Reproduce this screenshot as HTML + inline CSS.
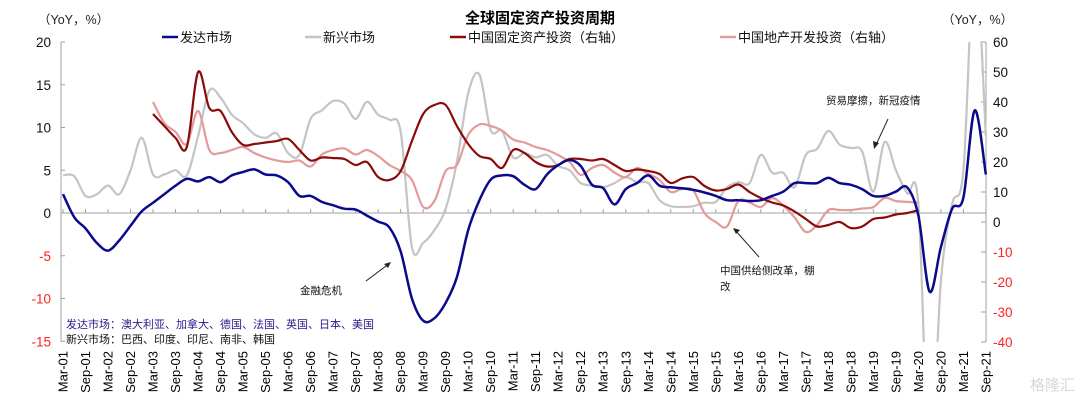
<!DOCTYPE html>
<html><head><meta charset="utf-8">
<style>
html,body{margin:0;padding:0;background:#fff;}
body{width:1080px;height:402px;overflow:hidden;font-family:"Liberation Sans","Noto Sans CJK SC",sans-serif;}
svg{display:block;}
</style></head>
<body>
<svg id="chart" width="1080" height="402" viewBox="0 0 1080 402" xmlns="http://www.w3.org/2000/svg" font-family="Liberation Sans, Noto Sans CJK SC, sans-serif">
  <text x="540" y="23" text-anchor="middle" font-size="15" font-weight="bold" fill="#000">全球固定资产投资周期</text>
  <text x="38" y="24" font-size="12.5" fill="#222">（YoY，%）</text>
  <text x="942" y="24" font-size="12.5" fill="#222">（YoY，%）</text>
  <g font-size="13" fill="#111">
    <g><line x1="162" y1="37" x2="178" y2="37" stroke="#0a0a8a" stroke-width="2.5"/><text x="180" y="42">发达市场</text></g>
    <g><line x1="305" y1="37" x2="321" y2="37" stroke="#c4c4c4" stroke-width="2.5"/><text x="323" y="42">新兴市场</text></g>
    <g><line x1="450" y1="37" x2="466" y2="37" stroke="#8b0a0a" stroke-width="2.5"/><text x="468" y="42">中国固定资产投资（右轴）</text></g>
    <g><line x1="720" y1="37" x2="736" y2="37" stroke="#e39a9a" stroke-width="2.5"/><text x="738" y="42">中国地产开发投资（右轴）</text></g>
  </g>
  <defs><clipPath id="plotclip"><rect x="61" y="42" width="926" height="300"/></clipPath></defs>
  <g id="axes"></g>
  <g id="series" clip-path="url(#plotclip)"></g>
  <g font-size="10.5" fill="#111">
    <text x="300" y="294">金融危机</text>
    <line x1="366" y1="281" x2="390" y2="263" stroke="#222" stroke-width="1"/>
    <path d="M391,262 L384,264 L388,268 Z" fill="#222"/>
    <text x="826" y="104">贸易摩擦，新冠疫情</text>
    <line x1="888" y1="119" x2="875" y2="147" stroke="#222" stroke-width="1"/>
    <path d="M874,149 L873,141 L879,143 Z" fill="#222"/>
    <text x="720" y="274">中国供给侧改革，棚</text>
    <text x="720" y="290">改</text>
    <line x1="759" y1="257" x2="735" y2="230" stroke="#222" stroke-width="1"/>
    <path d="M733,228 L740,230 L736,234 Z" fill="#222"/>
  </g>
  <g font-size="11">
    <text x="66" y="328" fill="#2a1a8a">发达市场：澳大利亚、加拿大、德国、法国、英国、日本、美国</text>
    <text x="66" y="343" fill="#111">新兴市场：巴西、印度、印尼、南非、韩国</text>
  </g>
  <text x="1030" y="390" font-size="15" fill="#d8d8d8">格隆汇</text>
</svg>
<script>
const quarters = [];
const monthNames = ['Mar','Jun','Sep','Dec'];
for (let y = 1; y <= 21; y++) for (let k = 0; k < 4; k++) { if (y === 21 && k === 3) break; quarters.push(monthNames[k] + '-' + String(y).padStart(2,'0')); }
const xTickLabels = [];
for (let y = 1; y <= 21; y++) { xTickLabels.push('Mar-' + String(y).padStart(2,'0')); xTickLabels.push('Sep-' + String(y).padStart(2,'0')); }
const leftTicks = [20,15,10,5,0,-5,-10,-15];
const rightTicks = [60,50,40,30,20,10,0,-10,-20,-30,-40];

const developed = [2.2,-0.5,-1.8,-3.5,-4.4,-3.2,-1.5,0.2,1.2,2.2,3.2,4.0,3.7,4.2,3.6,4.4,4.8,5.1,4.5,4.4,3.6,2.0,2.0,1.3,0.9,0.5,0.4,-0.3,-1.0,-1.7,-4.5,-10.0,-12.6,-12.3,-10.5,-7.5,-2.0,1.5,3.9,4.4,4.3,3.3,2.8,4.5,5.6,6.2,5.5,3.3,2.9,1.0,2.8,3.5,4.4,3.2,3.0,2.9,2.7,2.4,2.0,1.5,1.5,1.4,1.5,2.0,2.5,3.5,3.5,3.5,4.1,3.5,3.3,2.8,2.0,2.0,2.5,3.0,-0.3,-9.2,-4.0,0.5,1.8,12.0,4.5];
const emerging = [4.4,4.3,2.0,2.2,3.2,2.2,5.0,8.8,4.5,4.5,5.0,4.4,9.0,14.3,13.5,11.5,10.5,9.2,8.8,9.3,7.0,6.8,11.0,12.0,13.1,12.8,11.0,13.0,11.5,10.9,9.5,-4.0,-3.5,-2.0,0.5,6.0,14.0,16.2,9.7,9.6,6.5,7.0,6.5,6.8,5.5,5.0,3.5,3.2,3.0,3.5,4.2,3.6,3.5,1.5,0.8,0.7,0.8,1.2,1.3,3.0,3.6,3.5,6.8,4.7,4.7,3.0,6.8,7.5,9.6,8.0,7.6,7.2,2.5,8.3,5.0,2.3,1.0,-30,-8,1.0,5.0,30,9.0];
const chinaFAI = [null,null,null,null,null,null,null,null,36,32,28,25,50,38,37,30,25.7,26,26.5,27,27.7,24,20.5,21.5,21.3,21,19,20,15,14,17,27,36,39,39,32,26,22,21,18,24,23,20,18.5,19,21,21,20.5,21,19,17,17.5,17,16,13,14.5,15,12,10.5,11,12.5,10,8,6.5,5.5,3.5,1,-1.5,-1,0,-2,-1.5,1,1.5,2.5,3,4,null,null,null,null,null,null];
const chinaRE = [null,null,null,null,null,null,null,null,40,33,30,26,37,24,23,24,25,23,21.5,20.5,20,20.5,18.5,22.5,24,24.5,22.5,24,22,19,17,14,5,7,17,19,29,32.5,32,30.5,27.5,26.5,25,24,22.3,20,15.7,18,19,16.5,15,18,16,14,10,11,10.5,3,0,-1.5,7,6.5,5,8,5.5,1.5,-3.3,-1,4,4,4,4.5,5,8,7,6.7,6.5,null,null,null,null,null,null];

const X0 = 63, QSTEP = 11.255;
const xScale = i => X0 + i * QSTEP;
const yLeft = v => 213 - v * (171 / 20);
const yRight = v => 222 - v * 3;
const NS = 'http://www.w3.org/2000/svg';
const mk = (tag, attrs, parent) => { const e = document.createElementNS(NS, tag); for (const k in attrs) e.setAttribute(k, attrs[k]); parent.appendChild(e); return e; };
const axes = document.getElementById('axes');
const series = document.getElementById('series');

const la = mk('line', {x1:61,y1:42,x2:61,y2:342,stroke:'#a0a0a0','stroke-width':1}, axes);


leftTicks.forEach(v => {
  const y = yLeft(v);
  mk('line', {x1:61,y1:y,x2:65,y2:y,stroke:'#a0a0a0'}, axes);
  const t = mk('text', {x:51,y:y+5,'text-anchor':'end','font-size':13.5,fill: v < 0 ? '#ff2020' : '#111'}, axes);
  
  
  t.textContent = v;
});
const ra = mk('line', {x1:986,y1:42,x2:986,y2:342,stroke:'#a0a0a0','stroke-width':1}, axes);


rightTicks.forEach(v => {
  const y = yRight(v);
  mk('line', {x1:981,y1:y,x2:986,y2:y,stroke:'#a0a0a0'}, axes);
  const t = mk('text', {x:993,y:y+5,'font-size':13.5,fill: v < 0 ? '#ff2020' : '#111'}, axes);
  
  
  t.textContent = v;
});
const xa = mk('line', {x1:61,y1:yLeft(0),x2:986,y2:yLeft(0),stroke:'#a0a0a0','stroke-width':1}, axes);


xTickLabels.forEach((lab, k) => {
  const x = X0 + k * 2 * QSTEP;
  mk('line', {x1:x,y1:yLeft(0)-4,x2:x,y2:yLeft(0),stroke:'#a0a0a0'}, axes);
  const t = mk('text', {x:0,y:0,'font-size':13,fill:'#000','text-anchor':'end',transform:`translate(${x+4.5},351) rotate(-90)`}, axes);
  
  
  t.textContent = lab;
});

function smoothPath(vals, yf) {
  let segs = [], cur = [];
  vals.forEach((v, i) => { if (v === null) { if (cur.length) segs.push(cur); cur = []; } else cur.push([xScale(i), yf(v)]); });
  if (cur.length) segs.push(cur);
  let d = '';
  segs.forEach(p => {
    d += `M${p[0][0].toFixed(1)},${p[0][1].toFixed(1)}`;
    for (let i = 0; i < p.length - 1; i++) {
      const p0 = p[i-1] || p[i], p1 = p[i], p2 = p[i+1], p3 = p[i+2] || p2;
      const c1x = p1[0] + (p2[0]-p0[0])/6, c1y = p1[1] + (p2[1]-p0[1])/6;
      const c2x = p2[0] - (p3[0]-p1[0])/6, c2y = p2[1] - (p3[1]-p1[1])/6;
      d += `C${c1x.toFixed(1)},${c1y.toFixed(1)} ${c2x.toFixed(1)},${c2y.toFixed(1)} ${p2[0].toFixed(1)},${p2[1].toFixed(1)}`;
    }
  });
  return d;
}
const e1 = mk('path', {d: smoothPath(emerging, yLeft), fill:'none', stroke:'#c4c4c4', 'stroke-width':2.2, 'stroke-linejoin':'round'}, series);


const e2 = mk('path', {d: smoothPath(chinaRE, yRight), fill:'none', stroke:'#e39a9a', 'stroke-width':2.2, 'stroke-linejoin':'round'}, series);


const e3 = mk('path', {d: smoothPath(chinaFAI, yRight), fill:'none', stroke:'#8b0a0a', 'stroke-width':2.2, 'stroke-linejoin':'round'}, series);


const e4 = mk('path', {d: smoothPath(developed, yLeft), fill:'none', stroke:'#0a0a8a', 'stroke-width':2.5, 'stroke-linejoin':'round'}, series);


</script>
</body></html>
